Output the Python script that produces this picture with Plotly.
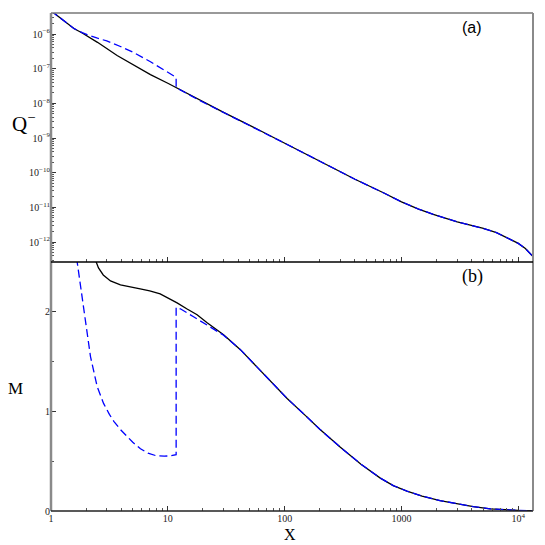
import numpy as np
import plotly.graph_objects as go

# ---- data ----
# panel (a): Q^- vs X (log-log), values given as log10(Q^-)
qa_black_x = [1, 1.11, 1.2, 1.57, 1.85, 2.5, 3.68, 5, 7.1, 10, 11.85, 17.8, 30, 62, 100, 200,
              400, 700, 1000, 1400, 1870, 3000, 4000, 5030, 6500, 8520, 10000, 11500, 13360]
qa_black_logq = [-5.33, -5.45, -5.55, -5.84, -5.97, -6.24, -6.62, -6.88, -7.17, -7.42, -7.55,
                 -7.88, -8.26, -8.79, -9.15, -9.67, -10.19, -10.58, -10.84, -11.05, -11.20,
                 -11.42, -11.52, -11.61, -11.73, -11.91, -12.04, -12.19, -12.42]

qa_blue_x = [1, 1.11, 1.2, 1.57, 1.85, 2.04, 2.5, 3.0, 3.93, 5, 7.1, 9, 11.4, 11.78, 11.78, 11.85,
             17.8, 30, 62, 100, 200, 400, 700, 1000, 1400, 1870, 3000, 4000, 5030, 6500, 8520,
             10000, 11500, 13360]
qa_blue_logq = [-5.33, -5.45, -5.55, -5.84, -5.96, -6.02, -6.12, -6.20, -6.36, -6.52, -6.80, -7.00,
                -7.22, -7.25, -7.54, -7.55, -7.88, -8.26, -8.79, -9.15, -9.67, -10.19, -10.58,
                -10.84, -11.05, -11.20, -11.42, -11.52, -11.61, -11.73, -11.91, -12.04, -12.19,
                -12.42]

# panel (b): M vs X
mb_black_x = [2.2, 2.4, 2.55, 2.8, 3.23, 3.93, 5.8, 7, 8.6, 10, 12, 14.5, 17.8, 21.7, 30, 41.8, 65,
              105, 150, 200, 300, 450, 659, 850, 1114, 1500, 2138, 3000, 4113, 5750, 8000, 10000,
              13360]
mb_black_m = [2.75, 2.52, 2.44, 2.37, 2.31, 2.27, 2.23, 2.21, 2.18, 2.14, 2.09, 2.03, 1.97, 1.89,
              1.77, 1.62, 1.39, 1.13, 0.96, 0.82, 0.64, 0.47, 0.33, 0.255, 0.20, 0.15, 0.105,
              0.07, 0.043, 0.022, 0.01, 0.006, 0.003]

mb_blue_x = [1.5, 1.675, 1.849, 1.91, 2.178, 2.483, 2.818, 3.162, 3.45, 3.981, 4.487, 5.012, 5.834,
             6.761, 7.943, 9.333, 10.72, 11.78, 11.78, 12.8, 16.6, 21.7, 30, 41.8, 65, 105, 150,
             200, 300, 450, 659, 850, 1114, 1500, 2138, 3000, 4113, 5750, 8000, 10000, 13360]
mb_blue_m = [2.9, 2.49, 2.12, 1.99, 1.55, 1.25, 1.08, 0.97, 0.90, 0.81, 0.745, 0.69, 0.625, 0.58,
             0.555, 0.55, 0.555, 0.565, 2.045, 2.03, 1.95, 1.87, 1.765, 1.62, 1.39, 1.13, 0.96,
             0.82, 0.64, 0.47, 0.33, 0.255, 0.20, 0.15, 0.105, 0.07, 0.043, 0.022, 0.01, 0.006,
             0.003]

x_tickvals = [1, 10, 100, 1000, 10000]
x_ticktext = ["1", "10", "100", "1000", "10<sup>4</sup>"]
q_tickvals = [1e-6, 1e-7, 1e-8, 1e-9, 1e-10, 1e-11, 1e-12]
q_ticktext = ["10<sup>−6</sup>", "10<sup>−7</sup>", "10<sup>−8</sup>", "10<sup>−9</sup>",
              "10<sup>−10</sup>", "10<sup>−11</sup>", "10<sup>−12</sup>"]
m_tickvals = [0, 1, 2]
m_ticktext = ["0", "1", "2"]

# ---- figure ----
BLACK = "#000000"
BLUE = "#0000ff"
LW = 1.3
DASH = "8px,4px"

fig = go.Figure()
fig.add_trace(go.Scatter(x=qa_black_x, y=[10 ** v for v in qa_black_logq], mode="lines",
                         line=dict(color=BLACK, width=LW), xaxis="x2", yaxis="y2", showlegend=False))
fig.add_trace(go.Scatter(x=qa_blue_x, y=[10 ** v for v in qa_blue_logq], mode="lines",
                         line=dict(color=BLUE, width=LW, dash=DASH), xaxis="x2", yaxis="y2",
                         showlegend=False))
fig.add_trace(go.Scatter(x=mb_black_x, y=mb_black_m, mode="lines",
                         line=dict(color=BLACK, width=LW), xaxis="x", yaxis="y", showlegend=False))
fig.add_trace(go.Scatter(x=mb_blue_x, y=mb_blue_m, mode="lines",
                         line=dict(color=BLUE, width=LW, dash=DASH), xaxis="x", yaxis="y",
                         showlegend=False))

xmax_log = np.log10(13360)
minor_x = [d * 10 ** e for e in range(0, 5) for d in range(2, 10)]
minor_q = [d * 10 ** e for e in range(-13, -5) for d in range(2, 10)]
tickfont = dict(family="Liberation Serif", size=10, color="#222")

common_x = dict(type="log", range=[0, xmax_log], tickmode="array", tickvals=x_tickvals,
                ticks="inside", ticklen=5, tickwidth=1, tickcolor="#333", showgrid=False,
                showline=False, zeroline=False,
                minor=dict(tickmode="array", tickvals=minor_x, ticks="inside", ticklen=3,
                           tickwidth=1, tickcolor="#555", showgrid=False))

ann_common = dict(xref="paper", yref="paper", showarrow=False, xanchor="center", yanchor="middle")

# the page body adds an 8px offset, so the figure is 537 px and margins are reduced by 8
fig.update_layout(
    width=537, height=537,
    margin=dict(l=43, r=12, t=5, b=34),
    paper_bgcolor="white", plot_bgcolor="white",
    xaxis=dict(domain=[0, 1], anchor="y", ticktext=x_ticktext, tickfont=tickfont, **common_x),
    xaxis2=dict(domain=[0, 1], anchor="y2", matches="x", showticklabels=False, **common_x),
    yaxis=dict(domain=[0, 0.5], anchor="x", range=[0, 2.5], tickmode="array",
               tickvals=m_tickvals, ticktext=m_ticktext, ticks="inside", ticklen=5,
               tickcolor="#333", tickfont=tickfont, showgrid=False, zeroline=False,
               showline=False,
               minor=dict(tickmode="array", tickvals=[0.5, 1.5, 2.5], ticks="inside", ticklen=3,
                          tickcolor="#555", showgrid=False)),
    yaxis2=dict(domain=[0.5, 1], anchor="x2", type="log", range=[-12.577, -5.394],
                tickmode="array", tickvals=q_tickvals, ticktext=q_ticktext, ticks="inside",
                ticklen=5, tickcolor="#333", tickfont=tickfont, showgrid=False, zeroline=False,
                showline=False,
                minor=dict(tickmode="array", tickvals=minor_q, ticks="inside", ticklen=3,
                           tickcolor="#555", showgrid=False)),
    shapes=[
        dict(type="line", xref="paper", yref="paper", x0=0, x1=0, y0=0, y1=1,
             line=dict(color="#8a8a8a", width=2.5)),
        dict(type="line", xref="paper", yref="paper", x0=0, x1=1, y0=1, y1=1,
             line=dict(color="#777", width=1.5)),
        dict(type="line", xref="paper", yref="paper", x0=1, x1=1, y0=0, y1=1,
             line=dict(color="#8a8a8a", width=2)),
        dict(type="line", xref="paper", yref="paper", x0=0, x1=1, y0=0, y1=0,
             line=dict(color="#222", width=1.5)),
        dict(type="line", xref="paper", yref="paper", x0=0, x1=1, y0=0.5, y1=0.5,
             line=dict(color="#000", width=1.5)),
    ],
    annotations=[
        dict(text="Q<sup>−</sup>", x=-0.058, y=0.781,
             font=dict(family="Liberation Serif", size=21, color="#000"), **ann_common),
        dict(text="M", x=-0.074, y=0.245,
             font=dict(family="Liberation Serif", size=17, color="#000"), **ann_common),
        dict(text="X", x=0.496, y=-0.047,
             font=dict(family="Liberation Serif", size=16, color="#000"), **ann_common),
        dict(text="(a)", x=0.874, y=0.97,
             font=dict(family="Liberation Sans", size=16, color="#000"), **ann_common),
        dict(text="(b)", x=0.874, y=0.47,
             font=dict(family="Liberation Serif", size=18, color="#000"), **ann_common),
    ],
)

fig.write_html("out.html")
